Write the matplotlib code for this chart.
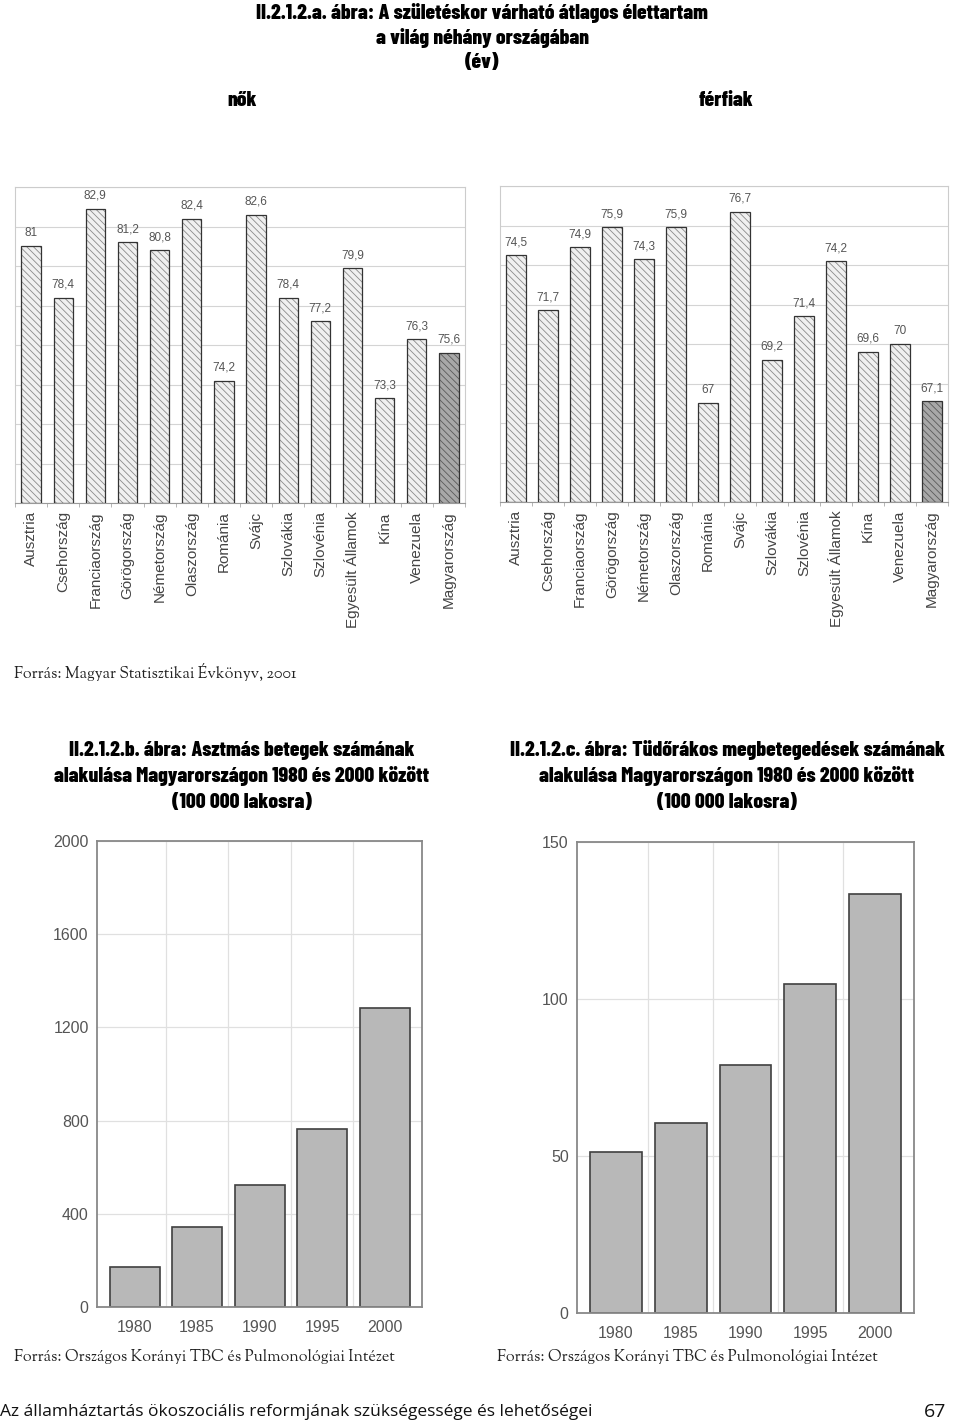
import matplotlib
matplotlib.use('Agg')
import matplotlib.pyplot as plt
import numpy as np

# --- data -------------------------------------------------------------
countries = ['Ausztria', 'Csehország', 'Franciaország', 'Görögország',
             'Németország', 'Olaszország', 'Románia', 'Svájc', 'Szlovákia',
             'Szlovénia', 'Egyesült Államok', 'Kína', 'Venezuela',
             'Magyarország']
women = [81, 78.4, 82.9, 81.2, 80.8, 82.4, 74.2, 82.6, 78.4, 77.2, 79.9,
         73.3, 76.3, 75.6]
men = [74.5, 71.7, 74.9, 75.9, 74.3, 75.9, 67, 76.7, 69.2, 71.4, 74.2,
       69.6, 70, 67.1]

years = ['1980', '1985', '1990', '1995', '2000']
asthma = [172, 344, 525, 763, 1283]
lung_cancer = [51.4, 60.5, 78.9, 104.9, 133.4]

W, H = 960, 1424
TITLE_FONT = ['Barlow Condensed', 'Roboto Condensed', 'Fjalla One', 'Oswald',
              'DejaVu Sans']
SERIF = ['Sorts Mill Goudy', 'Liberation Serif', 'DejaVu Serif']
SANS = ['Liberation Sans', 'DejaVu Sans']

plt.rcParams['hatch.linewidth'] = 0.6

fig = plt.figure(figsize=(W / 100, H / 100), dpi=100)


def px_axes(x0, y0, x1, y1):
    """axes from pixel box, origin top left"""
    return fig.add_axes([x0 / W, 1 - y1 / H, (x1 - x0) / W, (y1 - y0) / H])


def px_text(x, y, s, **kw):
    fig.text(x / W, 1 - y / H, s, **kw)


def life_chart(ax, values, ymin, ymax):
    x = np.arange(len(values))
    face = ['#f0f0f0'] * (len(values) - 1) + ['#a8a8a8']
    hatchc = ['#8a8a8a'] * (len(values) - 1) + ['#5a5a5a']
    for xi, v, fc, hc in zip(x, values, face, hatchc):
        ax.bar(xi, v - ymin, bottom=ymin, width=0.6, color=fc,
               edgecolor=hc, linewidth=0, hatch='\\' * 5, zorder=2)
    ax.bar(x, np.array(values) - ymin, bottom=ymin, width=0.6, fill=False,
           edgecolor='#333333', linewidth=0.9, zorder=3)
    for xi, v in zip(x, values):
        ax.annotate(('%g' % v).replace('.', ','), (xi, v),
                    xytext=(0, 5), textcoords='offset points',
                    ha='center', va='bottom', fontsize=8.5, color='#555555',
                    family=SANS)
    ax.set_xlim(-0.5, len(values) - 0.5)
    ax.set_ylim(ymin, ymax)
    ax.set_yticks(np.arange(ymin, ymax + 1, 2))
    ax.set_yticklabels([])
    ax.tick_params(axis='y', length=0)
    ax.grid(axis='y', color='#d4d4d4', linewidth=0.8, zorder=0)
    ax.set_axisbelow(True)
    ax.set_xticks(x)
    ax.set_xticklabels(countries, rotation=90, fontsize=11, color='#444444',
                       family=SANS)
    ax.tick_params(axis='x', length=0, pad=6)
    ax.set_xticks(np.arange(-0.5, len(values)), minor=True)
    ax.tick_params(axis='x', which='minor', length=3, color='#aaaaaa')
    for side in ('left', 'top', 'right'):
        ax.spines[side].set_color('#cccccc')
    ax.spines['bottom'].set_color('#999999')


def year_chart(ax, values, ymax, step):
    x = np.arange(len(values))
    ax.bar(x, values, width=0.8, color='#b8b8b8', edgecolor='#404040',
           linewidth=1.2, zorder=2)
    ax.set_xlim(-0.6, len(values) - 0.4)
    ax.set_ylim(0, ymax)
    ax.set_yticks(np.arange(0, ymax + 1, step))
    ax.set_xticks(x)
    ax.set_xticklabels(years)
    ax.set_xticks(np.arange(0.5, len(values) - 1), minor=True)
    ax.grid(axis='y', color='#e0e0e0', linewidth=0.9, zorder=0)
    ax.grid(axis='x', which='minor', color='#e0e0e0', linewidth=0.9, zorder=0)
    ax.tick_params(which='both', length=0)
    ax.tick_params(axis='x', pad=9)
    ax.tick_params(axis='y', pad=6)
    ax.tick_params(labelsize=11.5, labelcolor='#555555')
    for lab in ax.get_xticklabels() + ax.get_yticklabels():
        lab.set_family(SANS)
    for s in ax.spines.values():
        s.set_color('#888888')
        s.set_linewidth(1.3)
    ax.set_axisbelow(True)


# --- top titles --------------------------------------------------------
tkw = dict(family=TITLE_FONT, fontweight=800, fontsize=15.5,
           ha='center', va='center')
px_text(482, 13, 'II.2.1.2.a. ábra: A születéskor várható átlagos élettartam', **tkw)
px_text(482, 38, 'a világ néhány országában', **tkw)
px_text(482, 63, '(év)', **tkw)
px_text(242, 101, 'nők', **tkw)
px_text(726, 101, 'férfiak', **tkw)

ax1 = px_axes(15, 187, 465, 503)
life_chart(ax1, women, 68, 84)
ax2 = px_axes(500, 186, 948, 502)
life_chart(ax2, men, 62, 78)

px_text(14, 672, 'Forrás: Magyar Statisztikai Évkönyv, 2001', family=SERIF,
        fontsize=11.5, va='center', color='#222222')

# --- lower titles -------------------------------------------------------
px_text(242, 750, 'II.2.1.2.b. ábra: Asztmás betegek számának', **tkw)
px_text(242, 776, 'alakulása Magyarországon 1980 és 2000 között', **tkw)
px_text(242, 802, '(100 000 lakosra)', **tkw)
px_text(727, 750, 'II.2.1.2.c. ábra: Tüdőrákos megbetegedések számának', **tkw)
px_text(727, 776, 'alakulása Magyarországon 1980 és 2000 között', **tkw)
px_text(727, 802, '(100 000 lakosra)', **tkw)

ax3 = px_axes(97, 841, 422, 1307)
year_chart(ax3, asthma, 2000, 400)
ax4 = px_axes(577, 842, 914, 1313)
year_chart(ax4, lung_cancer, 150, 50)

src = 'Forrás: Országos Korányi TBC és Pulmonológiai Intézet'
px_text(14, 1357, src, family=SERIF, fontsize=11.5, va='center', color='#222222')
px_text(497, 1357, src, family=SERIF, fontsize=11.5, va='center', color='#222222')

# --- footer ---------------------------------------------------------------
px_text(0, 1412, 'Az államháztartás ökoszociális reformjának szükségessége és lehetőségei',
        family=['Open Sans', 'DejaVu Sans'], fontsize=12.5, va='center',
        color='#111111')
px_text(946, 1412, '67', family=['Open Sans', 'DejaVu Sans'], fontsize=14,
        va='center', ha='right', color='#111111')

fig.savefig('out.png', dpi=100)
